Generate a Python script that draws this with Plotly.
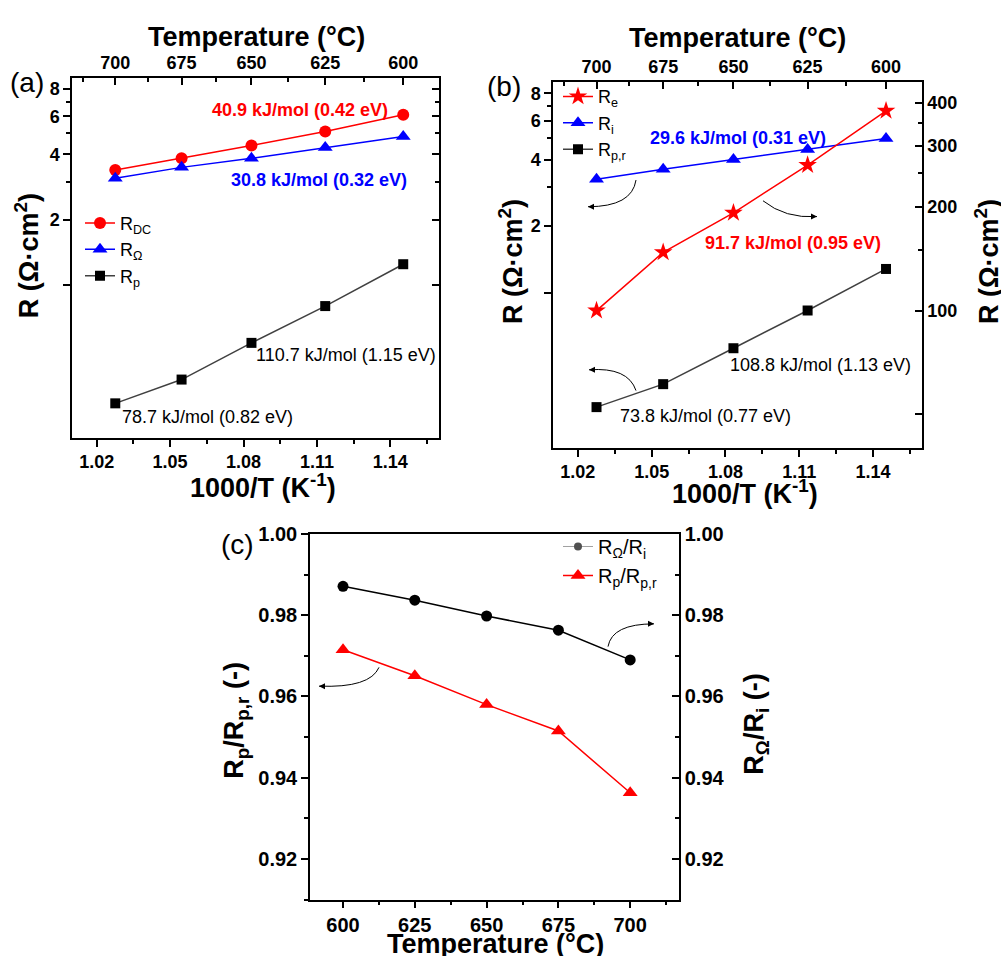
import math
import plotly.graph_objects as go

FONT = "Liberation Sans, Arial, sans-serif"
W, H = 1001, 956

# ---------------- data ----------------
T_C = [700, 675, 650, 625, 600]
inv_T = [1000 / (t + 273.15) for t in T_C]

# panel (a)
R_DC = [3.39, 3.84, 4.40, 5.10, 6.10]
R_Omega = [3.11, 3.49, 3.84, 4.31, 4.84]
R_p = [0.286, 0.368, 0.543, 0.802, 1.25]

# panel (b)
R_e = [100, 147.5, 192, 264, 379]
R_i = [3.26, 3.62, 4.01, 4.45, 4.99]
R_pr = [0.303, 0.385, 0.560, 0.830, 1.28]

# panel (c)
T_c = [600, 625, 650, 675, 700]
ratio_ohm = [0.9871, 0.9837, 0.9798, 0.9763, 0.9690]
ratio_pol = [0.9715, 0.9651, 0.9580, 0.9515, 0.9363]

x_ticks = [1.02, 1.05, 1.08, 1.11, 1.14]
x_minor = [1.035, 1.065, 1.095, 1.125, 1.155]
T_top = [700, 675, 650, 625, 600]
T_top_minor = [712.5, 687.5, 662.5, 637.5, 612.5]
y_left_ticks = [1, 2, 4, 6, 8]
y_left_text = ["", "2", "4", "6", "8"]
y_left_minor = [3, 5, 7]
y_right_ticks = [50, 100, 200, 300, 400]
y_right_text = ["", "100", "200", "300", "400"]
y_right_minor = [150, 250, 350]
c_yticks = [0.92, 0.94, 0.96, 0.98, 1.00]
c_yminor = [0.91, 0.93, 0.95, 0.97, 0.99]
c_xticks = [600, 625, 650, 675, 700]
c_xminor = [612.5, 637.5, 662.5, 687.5, 712.5]


def fx(px):
    return px / W


def fy(py):
    return 1 - py / H


top_vals = [1000 / (t + 273.15) for t in T_top]
top_minor = [1000 / (t + 273.15) for t in T_top_minor]

fig = go.Figure()

# ---- panel (a) ----
fig.add_trace(go.Scatter(x=inv_T, y=R_DC, mode="lines+markers", name="R<sub>DC</sub>",
                         line=dict(color="#ff0000", width=1.5),
                         marker=dict(symbol="circle", size=12, color="#ff0000"),
                         xaxis="x", yaxis="y", legend="legend"))
fig.add_trace(go.Scatter(x=inv_T, y=R_Omega, mode="lines+markers", name="R<sub>Ω</sub>",
                         line=dict(color="#0000ff", width=1.5),
                         marker=dict(symbol="triangle-up", size=13, color="#0000ff"),
                         xaxis="x", yaxis="y", legend="legend"))
fig.add_trace(go.Scatter(x=inv_T, y=R_p, mode="lines+markers", name="R<sub>p</sub>",
                         line=dict(color="#404040", width=1.5),
                         marker=dict(symbol="square", size=10, color="#000000"),
                         xaxis="x", yaxis="y", legend="legend"))
fig.add_trace(go.Scatter(x=[None], y=[None], showlegend=False, xaxis="x2", yaxis="y2"))

# ---- panel (b) ----
fig.add_trace(go.Scatter(x=inv_T, y=R_e, mode="lines+markers", name="R<sub>e</sub>",
                         line=dict(color="#ff0000", width=1.5),
                         marker=dict(symbol="star", size=14, color="#ff0000"),
                         xaxis="x3", yaxis="y4", legend="legend2"))
fig.add_trace(go.Scatter(x=inv_T, y=R_i, mode="lines+markers", name="R<sub>i</sub>",
                         line=dict(color="#0000ff", width=1.5),
                         marker=dict(symbol="triangle-up", size=13, color="#0000ff"),
                         xaxis="x3", yaxis="y3", legend="legend2"))
fig.add_trace(go.Scatter(x=inv_T, y=R_pr, mode="lines+markers", name="R<sub>p,r</sub>",
                         line=dict(color="#404040", width=1.5),
                         marker=dict(symbol="square", size=10, color="#000000"),
                         xaxis="x3", yaxis="y3", legend="legend2"))
fig.add_trace(go.Scatter(x=[None], y=[None], showlegend=False, xaxis="x4", yaxis="y4"))

# ---- panel (c) ----
fig.add_trace(go.Scatter(x=T_c, y=ratio_ohm, mode="lines+markers", name="R<sub>Ω</sub>/R<sub>i</sub>",
                         line=dict(color="#000000", width=1.5),
                         marker=dict(symbol="circle", size=11, color="#000000"),
                         xaxis="x5", yaxis="y6", showlegend=False))
# legend-only entry styled like the reference legend icon
fig.add_trace(go.Scatter(x=[None], y=[None], mode="lines+markers", name="R<sub>Ω</sub>/R<sub>i</sub>",
                         line=dict(color="#a0a0a0", width=1),
                         marker=dict(symbol="circle", size=8, color="#505050"),
                         xaxis="x5", yaxis="y6", legend="legend3"))
fig.add_trace(go.Scatter(x=T_c, y=ratio_pol, mode="lines+markers", name="R<sub>p</sub>/R<sub>p,r</sub>",
                         line=dict(color="#ff0000", width=1.5),
                         marker=dict(symbol="triangle-up", size=13, color="#ff0000"),
                         xaxis="x5", yaxis="y5", legend="legend3"))

tickfont = dict(family=FONT, size=18, color="black", weight="bold")
tickfont_c = dict(family=FONT, size=20, color="black", weight="bold")
LW = 1.5


def base_axis(**kw):
    d = dict(showline=True, linecolor="black", linewidth=LW, showgrid=False, zeroline=False,
             ticks="outside", ticklen=7, tickwidth=LW, tickcolor="black",
             tickfont=tickfont)
    d.update(kw)
    return d


xa_dom = [fx(72), fx(439)]
ya_dom = [fy(432), fy(68)]
xb_dom = [fx(553), fx(922)]
yb_dom = [fy(442), fy(72)]
xc_dom = [fx(310), fx(679)]
yc_dom = [fy(899), fy(529)]

xr = [1.0099, 1.1599]
yl_range = [math.log10(0.198), math.log10(8.98)]
yr_range = [math.log10(40.0), math.log10(459.0)]

minor_out = dict(ticklen=4, tickwidth=LW, tickcolor="black", ticks="outside", showgrid=False)
minor_in = dict(ticklen=4, tickwidth=LW, tickcolor="black", ticks="inside", showgrid=False)

layout_axes = dict(
    # (a)
    xaxis=base_axis(domain=xa_dom, anchor="y", range=xr, tickmode="array", tickvals=x_ticks,
                    ticktext=[f"{v:.2f}" for v in x_ticks], mirror=True,
                    minor=dict(tickmode="array", tickvals=x_minor, **minor_out)),
    xaxis2=base_axis(overlaying="x", side="top", anchor="y", range=xr, tickmode="array",
                     tickvals=top_vals, ticktext=[str(t) for t in T_top], ticks="inside",
                     minor=dict(tickmode="array", tickvals=top_minor, **minor_in)),
    yaxis=base_axis(domain=ya_dom, anchor="x", type="log", range=yl_range, tickmode="array",
                    tickvals=y_left_ticks, ticktext=y_left_text, mirror=True,
                    minor=dict(tickmode="array", tickvals=y_left_minor, **minor_out)),
    yaxis2=base_axis(overlaying="y", side="right", anchor="x", type="log", range=yl_range,
                     tickmode="array", tickvals=y_left_ticks, ticks="inside", showticklabels=False,
                     minor=dict(tickmode="array", tickvals=y_left_minor, **minor_in)),
    # (b)
    xaxis3=base_axis(domain=xb_dom, anchor="y3", range=xr, tickmode="array", tickvals=x_ticks,
                     ticktext=[f"{v:.2f}" for v in x_ticks], mirror=True,
                     minor=dict(tickmode="array", tickvals=x_minor, **minor_out)),
    xaxis4=base_axis(overlaying="x3", side="top", anchor="y3", range=xr, tickmode="array",
                     tickvals=top_vals, ticktext=[str(t) for t in T_top], ticks="inside",
                     minor=dict(tickmode="array", tickvals=top_minor, **minor_in)),
    yaxis3=base_axis(domain=yb_dom, anchor="x3", type="log", range=yl_range, tickmode="array",
                     tickvals=y_left_ticks, ticktext=y_left_text,
                     minor=dict(tickmode="array", tickvals=y_left_minor, **minor_out)),
    yaxis4=base_axis(overlaying="y3", side="right", anchor="x3", type="log", range=yr_range,
                     tickmode="array", tickvals=y_right_ticks, ticktext=y_right_text, ticks="inside",
                     minor=dict(tickmode="array", tickvals=y_right_minor, **minor_in)),
    # (c)
    xaxis5=base_axis(domain=xc_dom, anchor="y5", range=[588.5, 717], tickmode="array",
                     tickvals=c_xticks, ticktext=[str(v) for v in c_xticks], mirror=True,
                     tickfont=tickfont_c,
                     minor=dict(tickmode="array", tickvals=c_xminor, **minor_out)),
    yaxis5=base_axis(domain=yc_dom, anchor="x5", range=[0.91, 1.0], tickmode="array",
                     tickvals=c_yticks, ticktext=[f"{v:.2f}" for v in c_yticks],
                     tickfont=tickfont_c,
                     minor=dict(tickmode="array", tickvals=c_yminor, **minor_out)),
    yaxis6=base_axis(overlaying="y5", side="right", anchor="x5", range=[0.91, 1.0], tickmode="array",
                     tickvals=c_yticks, ticktext=[f"{v:.2f}" for v in c_yticks], ticks="inside",
                     tickfont=tickfont_c,
                     minor=dict(tickmode="array", tickvals=c_yminor, **minor_in)),
)

leg_common = dict(xanchor="left", yanchor="top", bgcolor="rgba(0,0,0,0)", borderwidth=0,
                  tracegroupgap=0, itemwidth=30, traceorder="normal")

annotations = []


def txt(text, x, y, size=18, color="black", bold=False, angle=0, xanchor="center", yanchor="middle"):
    t = f"<b>{text}</b>" if bold else text
    annotations.append(dict(text=t, x=fx(x), y=fy(y), xref="paper", yref="paper",
                            showarrow=False, textangle=angle, xanchor=xanchor, yanchor=yanchor,
                            font=dict(family=FONT, size=size, color=color)))


# axis titles
txt("Temperature (°C)", 256, 26, size=27, bold=True)
txt("Temperature (°C)", 737, 27, size=27, bold=True)
txt("1000/T (K<sup>-1</sup>)", 263, 481, size=27, bold=True)
txt("1000/T (K<sup>-1</sup>)", 745, 487, size=27, bold=True)
txt("R (Ω·cm<sup>2</sup>)", 27, 248, size=27, bold=True, angle=-90)
txt("R (Ω·cm<sup>2</sup>)", 511, 254, size=27, bold=True, angle=-90)
txt("R (Ω·cm<sup>2</sup>)", 987, 254, size=27, bold=True, angle=-90)
txt("Temperature (°C)", 495, 944, size=27, bold=True)
txt("R<sub>p</sub>/R<sub>p,r</sub> (-)", 236, 718, size=27, bold=True, angle=-90)
txt("R<sub>Ω</sub>/R<sub>i</sub> (-)", 756, 722, size=27, bold=True, angle=-90)

# panel labels
txt("(a)", 27, 72, size=28)
txt("(b)", 504, 76, size=28)
txt("(c)", 237, 540, size=28)

# activation energies
txt("40.9 kJ/mol (0.42 eV)", 300, 100, size=18, color="#ff0000", bold=True)
txt("30.8 kJ/mol (0.32 eV)", 319, 171, size=18, color="#0000ff", bold=True)
txt("110.7 kJ/mol (1.15 eV)", 346, 348, size=18)
txt("78.7 kJ/mol (0.82 eV)", 207, 411, size=18)
txt("29.6 kJ/mol (0.31 eV)", 738, 128, size=18, color="#0000ff", bold=True)
txt("91.7 kJ/mol (0.95 eV)", 793, 235, size=18, color="#ff0000", bold=True)
txt("108.8 kJ/mol (1.13 eV)", 820, 358, size=18)
txt("73.8 kJ/mol (0.77 eV)", 705, 410, size=18)

# curved arrows
shapes = []


def curved_arrow(p0, c, p1, direction):
    path = (f"M {fx(p0[0])},{fy(p0[1])} Q {fx(c[0])},{fy(c[1])} {fx(p1[0])},{fy(p1[1])}")
    shapes.append(dict(type="path", path=path, xref="paper", yref="paper",
                       line=dict(color="black", width=1)))
    off = 6 if direction == "left" else -6
    annotations.append(dict(text="", x=fx(p1[0]), y=fy(p1[1]), xref="paper", yref="paper",
                            ax=off, ay=0, showarrow=True, arrowhead=2, arrowsize=1.2,
                            arrowwidth=1, arrowcolor="black"))


curved_arrow((636, 171), (632, 198), (588, 198), "left")
curved_arrow((763, 192), (785, 210), (817, 208), "right")
curved_arrow((636, 384), (628, 360), (589, 363), "left")
curved_arrow((608, 643), (612, 620), (654, 620), "right")
curved_arrow((379, 664), (370, 685), (319, 683), "left")

fig.update_layout(
    width=W, height=H, autosize=False,
    margin=dict(l=0, r=0, t=0, b=0),
    paper_bgcolor="white", plot_bgcolor="white",
    font=dict(family=FONT, color="black"),
    legend=dict(x=fx(80), y=fy(196), font=dict(family=FONT, size=18, color="black"), **leg_common),
    legend2=dict(x=fx(558), y=fy(68), font=dict(family=FONT, size=18, color="black"), **leg_common),
    legend3=dict(x=fx(558), y=fy(522), font=dict(family=FONT, size=20, color="black"), **leg_common),
    annotations=annotations,
    shapes=shapes,
    **layout_axes,
)

fig.write_html("out.html", config={"displayModeBar": False},
               post_script="document.body.style.margin='0px';document.body.style.overflow='hidden';")
